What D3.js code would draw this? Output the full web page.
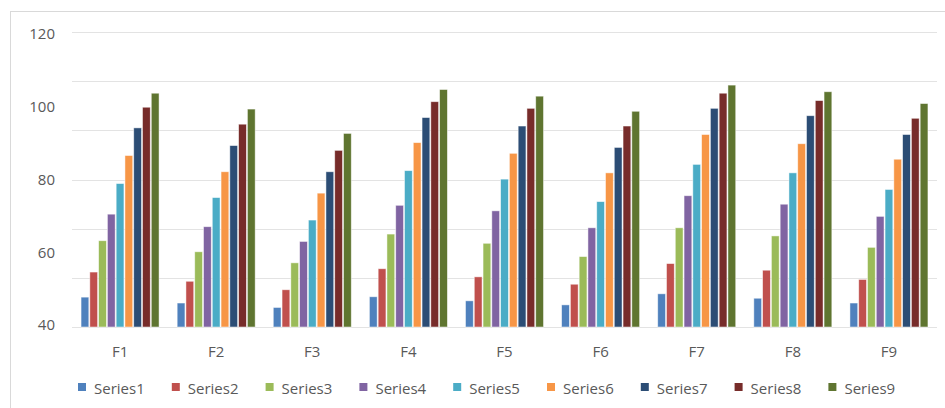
<!DOCTYPE html>
<html>
<head>
<meta charset="utf-8">
<script src="https://cdn.jsdelivr.net/npm/d3@7"></script>
<style>
  html, body { margin: 0; padding: 0; background: #fff; }
  svg { display: block; }
  text { font-family: "Open Sans", sans-serif; fill: #595959; }
</style>
</head>
<body>
<svg id="chart" width="945" height="408"></svg>
<script>
const categories = ["F1", "F2", "F3", "F4", "F5", "F6", "F7", "F8", "F9"];
const seriesNames = ["Series1", "Series2", "Series3", "Series4", "Series5", "Series6", "Series7", "Series8", "Series9"];
const seriesColors = ["#4F81BD", "#C0504D", "#9BBB59", "#8064A2", "#4BACC6", "#F79646", "#2C4D75", "#772C2A", "#5F7530"];
const Series1 = [48.1, 46.5, 45.3, 48.2, 47.1, 46.0, 49.0, 47.8, 46.5];
const Series2 = [54.9, 52.4, 50.1, 55.8, 53.6, 51.6, 57.2, 55.4, 52.9];
const Series3 = [63.4, 60.4, 57.4, 65.2, 62.7, 59.1, 66.9, 64.7, 61.6];
const Series4 = [70.6, 67.2, 63.2, 73.0, 71.5, 66.9, 75.6, 73.3, 70.0];
const Series5 = [78.9, 75.1, 69.0, 82.4, 80.1, 74.0, 84.1, 81.8, 77.3];
const Series6 = [86.5, 82.1, 76.3, 90.0, 87.1, 81.8, 92.2, 89.7, 85.5];
const Series7 = [94.0, 89.2, 82.1, 96.8, 94.5, 88.7, 99.3, 97.3, 92.2];
const Series8 = [99.6, 95.0, 87.9, 101.1, 99.3, 94.5, 103.4, 101.4, 96.6];
const Series9 = [103.4, 99.1, 92.5, 104.4, 102.6, 98.5, 105.6, 103.8, 100.6];
const seriesValues = [Series1, Series2, Series3, Series4, Series5, Series6, Series7, Series8, Series9];
const yTickLabels = [40, 60, 80, 100, 120];
const yMin = 40, yMax = 120, gridCount = 6;

(function () {
const svg = d3.select("#chart");
const plotLeft = 72, plotRight = 937, plotTop = 32, plotBottom = 327;

// chart frame (top and left edge)
svg.append("line").attr("x1", 10).attr("x2", 945).attr("y1", 11.5).attr("y2", 11.5)
  .attr("stroke", "#d9d9d9").attr("stroke-width", 1);
svg.append("line").attr("x1", 10.5).attr("x2", 10.5).attr("y1", 11).attr("y2", 408)
  .attr("stroke", "#d9d9d9").attr("stroke-width", 1);

const y = d3.scaleLinear().domain([yMin, yMax]).range([plotBottom, plotTop]);
const yLab = d3.scaleLinear().domain([yMin, yMax]).range([325, 34]);
const x0 = d3.scaleBand().domain(categories).range([plotLeft, plotRight]).paddingInner(0.178).paddingOuter(0.089);
const x1 = d3.scaleBand().domain(seriesNames).range([0, x0.bandwidth()]).padding(0);

// gridlines
const gridVals = d3.range(gridCount + 1).map(i => yMin + i * (yMax - yMin) / gridCount);
svg.append("g").selectAll("line").data(gridVals).join("line")
  .attr("x1", plotLeft).attr("x2", plotRight)
  .attr("y1", d => Math.round(y(d)) + 0.5).attr("y2", d => Math.round(y(d)) + 0.5)
  .attr("stroke", "#e3e3e3").attr("stroke-width", 1.2);

// y labels
svg.append("g").selectAll("text").data(yTickLabels).join("text")
  .attr("x", 55).attr("y", d => yLab(d)).attr("dy", "0.36em")
  .attr("text-anchor", "end").attr("font-size", 15).text(d => d);

// bars
const groups = svg.append("g").selectAll("g").data(categories).join("g")
  .attr("transform", d => `translate(${x0(d)},0)`);
groups.selectAll("rect")
  .data((c, ci) => seriesNames.map((s, si) => ({ s, si, v: seriesValues[si][ci] })))
  .join("rect")
  .attr("x", d => x1(d.s) + 0.5)
  .attr("width", x1.bandwidth() - 1)
  .attr("y", d => y(d.v))
  .attr("height", d => y(yMin) - y(d.v))
  .attr("fill", d => seriesColors[d.si])
  .attr("stroke", "#ffffff").attr("stroke-opacity", 0.6).attr("stroke-width", 0.8);

// category labels
svg.append("g").selectAll("text").data(categories).join("text")
  .attr("x", d => x0(d) + x0.bandwidth() / 2).attr("y", 357)
  .attr("text-anchor", "middle").attr("font-size", 15).text(d => d);

// legend
const legend = svg.append("g").selectAll("g").data(seriesNames).join("g")
  .attr("transform", (d, i) => `translate(${78 + i * 93.8},0)`);
legend.append("rect").attr("x", 0).attr("y", 383).attr("width", 8).attr("height", 8)
  .attr("fill", (d, i) => seriesColors[i]);
legend.append("text").attr("x", 16).attr("y", 393.5).attr("font-size", 15).text(d => d);
})();
</script>
</body>
</html>
